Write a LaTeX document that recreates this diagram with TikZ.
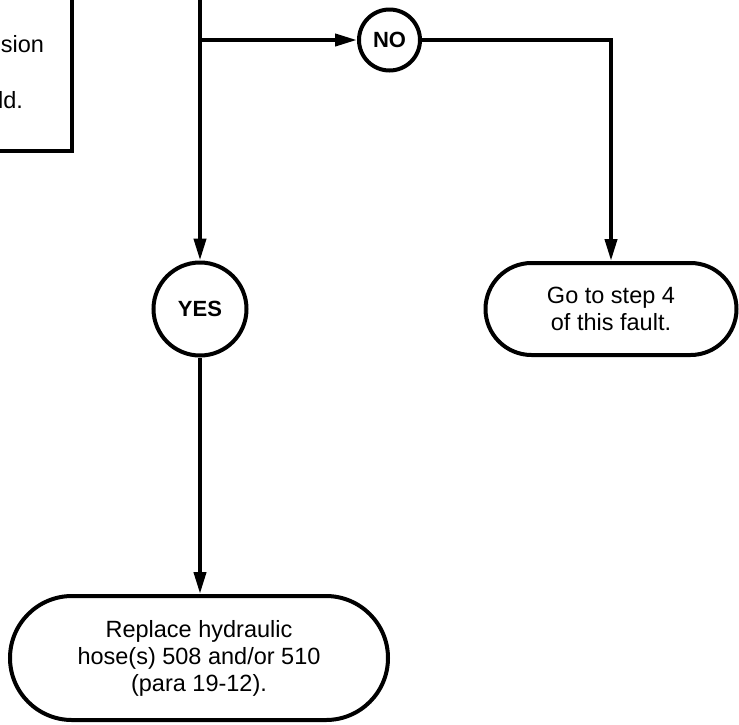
\documentclass[tikz,border=0pt]{standalone}
\usepackage{fontspec}
\setmainfont{Liberation Sans}
\usetikzlibrary{arrows.meta,shapes.misc}
\begin{document}
\begin{tikzpicture}[x=1pt,y=-1pt,
  line width=4pt,
  every node/.style={inner sep=0pt},
  txt/.style={font=\fontsize{23.5}{27}\selectfont, align=center},
  circ/.style={draw, circle, font=\fontsize{22}{25}\selectfont\bfseries},
  term/.style={draw, rounded rectangle, font=\fontsize{23.5}{27}\selectfont, align=center},
  arr/.style={-{Triangle[length=22pt,width=12pt]}}]
\useasboundingbox (0,0) rectangle (739,724);
% partial box at top left
\draw (0,151) -- (72,151) -- (72,0);
\node[txt, anchor=base east] (t1) at (46,52) {ssion};
\node[txt, anchor=base east] (t2) at (25,108) {ld.};
% decision circles
\node[circ, minimum size=61pt] (no) at (389.5,40) {NO};
\node[circ, minimum size=93pt] (yes) at (200,309) {YES};
% terminals
\node[term, minimum width=251pt, minimum height=92pt] (go) at (611,309) {Go to step 4\\of this fault.};
\node[term, minimum width=378pt, minimum height=124pt] (rep) at (199,658) {Replace hydraulic\\hose(s) 508 and/or 510\\(para 19-12).};
% connectors
\coordinate (top) at (200,0);
\coordinate (j) at (200,40);
\draw[arr] (top) -- (yes);
\draw[arr] (j) -- (no);
\draw[arr] (no) -| (go);
\draw[arr] (yes) -- (yes |- rep.north);
\end{tikzpicture}
\end{document}
